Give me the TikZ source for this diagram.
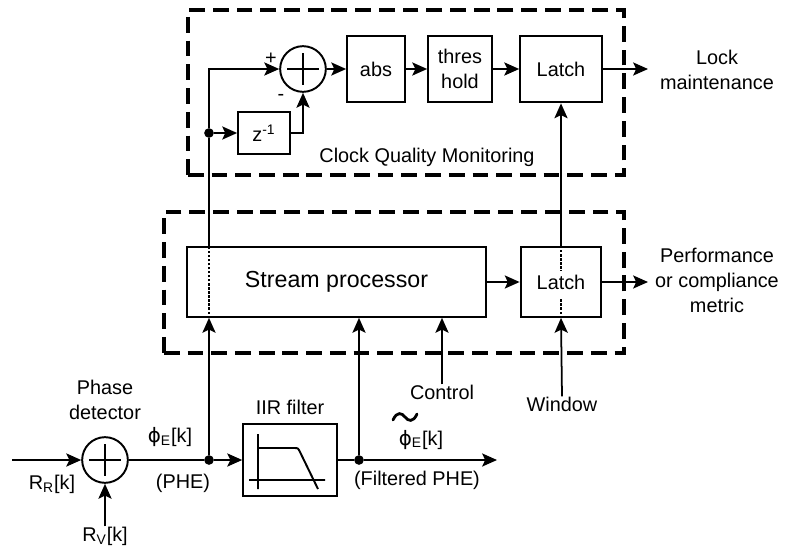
\documentclass[tikz,border=0pt]{standalone}
\usepackage{fontspec}
\setmainfont{Liberation Sans}
\setsansfont{Liberation Sans}
\newfontfamily\grk{DejaVu Sans}
\usetikzlibrary{arrows.meta,positioning}
\tikzstyle{every picture}+=[font=\sffamily]

\begin{document}
\begin{tikzpicture}
	[x=0.02cm, y=-0.02cm, inner sep=0pt,
	font=\sffamily\fontsize{11.3pt}{14.2pt}\selectfont,
	block/.style	= {rectangle, draw, line width=1.1pt, align=center},
	adder/.style	= {circle, draw, line width=1.1pt, minimum size=26pt,
		path picture={\draw [line width=1.1pt] (path picture bounding box.center) +(-16,0) -- +(16,0) +(0,-16) -- +(0,16);}},
	dot/.style		= {circle, fill, minimum size=5.5pt},
	group/.style	= {rectangle, draw, line width=2.4pt, dash pattern=on 9pt off 4.5pt},
	txt/.style		= {align=center},
	wire/.style		= {line width=1pt},
	sig/.style		= {->, >={Stealth[length=8.5pt, width=7.5pt, inset=1.8pt]}, line width=1pt},
	thru/.style		= {densely dotted, line width=1.3pt}]
	
	\useasboundingbox (0,0) rectangle (788,548);
	
	% groups
	\node at (406, 92.5)	[group, minimum width=248.3pt, minimum height=93.6pt]	(cqm)	{};
	\node at (394, 282.5)	[group, minimum width=262pt, minimum height=80pt]		(spg)	{};
	\node at (427, 157)		[txt]	(cqmlab)	{Clock Quality Monitoring};
	
	% clock quality monitoring
	\node at (303, 69)		[adder]	(sum)	{};
	\node at (264, 133)		[block, minimum width=29.5pt, minimum height=23.8pt]	(zd)	{z\textsuperscript{-1}};
	\node at (376, 69)		[block, minimum width=32.9pt, minimum height=38pt]		(abs)	{abs};
	\node at (460, 69)		[block, minimum width=36.3pt, minimum height=38pt]		(thr)	{thres\\hold};
	\node at (561, 69)		[block, minimum width=46.5pt, minimum height=38pt]		(latchA)	{Latch};
	\node at (209, 133)		[dot]	(tap)	{};
	\node at (271, 59)		[txt]	(plus)	{+};
	\node at (281, 97)		[txt]	(minus)	{-};
	\coordinate (lockout) at (648, 69);
	\node at (717, 70)		[txt]	(lock)	{Lock\\maintenance};
	
	% stream processing
	\node at (336.5, 282)	[block, minimum width=170.7pt, minimum height=39.7pt, font=\sffamily\fontsize{13.2pt}{15pt}\selectfont]	(sp)	{Stream processor};
	\node at (561, 282)		[block, minimum width=46pt, minimum height=39.7pt]		(latchB)	{Latch};
	\coordinate (perfout) at (648, 282);
	\node at (717, 280)		[txt]	(perf)	{Performance\\or compliance\\metric};
	\node at (442, 392)		[txt]	(ctl)	{Control};
	\node at (562, 404)		[txt]	(win)	{Window};
	
	% phase detector and filter
	\coordinate (rin) at (12, 460);
	\node at (105, 460)		[adder]	(pd)	{};
	\node at (105, 400)		[txt]	(pdlab)	{Phase\\detector};
	\node at (52, 484)		[txt]	(rr)	{R\textsubscript{R}[k]};
	\node at (105, 536)		[txt]	(rv)	{R\textsubscript{V}[k]};
	\node at (209, 460)		[dot]	(phe)	{};
	\node at (170, 437)		[txt]	(phelab)	{{\grk ϕ}\textsubscript{E}[k]};
	\node at (183, 483)		[txt]	(phetxt)	{(PHE)};
	\node at (290, 460)		[block, minimum width=53.3pt, minimum height=40.8pt]	(iir)	{};
	\node at (290, 407)		[txt]	(iirlab)	{IIR filter};
	\node at (359, 460)		[dot]	(flt)	{};
	\coordinate (fout) at (497, 460);
	\node at (421, 445)		[anchor=base]	(fltlab)	{{\grk ϕ}\textsubscript{E}[k]};
	\node at (417, 480)		[txt]	(flttxt)	{(Filtered PHE)};
	
	% tilde over the filtered phase
	\draw [line width=1.6pt, line cap=round, shift={(fltlab.base)}] (-28,-25) .. controls (-24,-34) and (-19,-32) .. (-16,-28)
		.. controls (-13,-24) and (-8,-22) .. (-4,-31);
	
	% filter icon
	\draw [line width=1.1pt, shift={(iir.center)}] (-32,-26) -- (-32,29) (-41,20) -- (35,20)
		(-32,-12) -- (4,-12) .. controls (8,-12) .. (10,-8) -- (28,29);
	
	% connections
	\draw [sig] (sum.east) -- (abs.west);
	\draw [sig] (abs.east) -- (thr.west);
	\draw [sig] (thr.east) -- (latchA.west);
	\draw [sig] (latchA.east) -- (lockout);
	\draw [sig] (tap) |- (sum.west);
	\draw [sig] (tap) -- (zd.west);
	\draw [sig] (zd.east) -| (sum.south);
	
	\draw [sig] (sp.east) -- (latchB.west);
	\draw [sig] (latchB.east) -- (perfout);
	\draw [sig] (win.north) -- (latchB.south);
	\draw [thru] (latchB.south) -- ++(0,-20);
	\draw [thru] (latchB.north) -- ++(0,25);
	\draw [sig] (latchB.north) -- (latchA.south);
	\draw [sig] (ctl.north) -- (ctl.north |- sp.south);
	
	\draw [sig] (rin) -- (pd.west);
	\draw [sig] (rv.north) -- (pd.south);
	\draw [wire] (pd.east) -- (phe);
	\draw [sig] (phe) -- (iir.west);
	\draw [wire] (iir.east) -- (flt);
	\draw [sig] (flt) -- (fout);
	\draw [sig] (flt) -- (flt |- sp.south);
	\draw [sig] (phe) -- (phe |- sp.south);
	\draw [thru] (phe |- sp.south) -- (phe |- sp.north);
	\draw [wire] (phe |- sp.north) -- (tap);
	
\end{tikzpicture}
\end{document}
